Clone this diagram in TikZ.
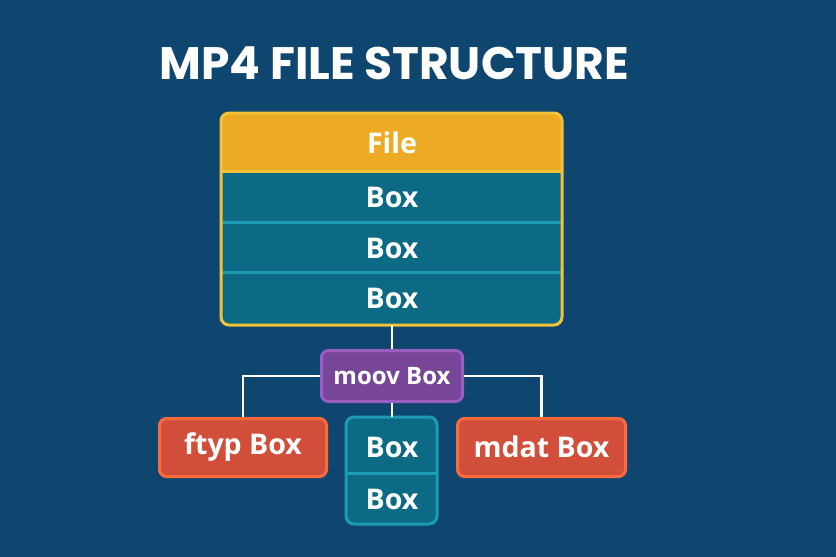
\documentclass[tikz,border=0pt]{standalone}
\usepackage{fontspec}
\setmainfont{Open Sans}
\newfontfamily\titlefont{Poppins}
\definecolor{bgc}{HTML}{0F4670}
\definecolor{yel}{HTML}{F4C238}
\definecolor{filec}{HTML}{EDAA24}
\definecolor{tealc}{HTML}{0C6A85}
\definecolor{cyanc}{HTML}{1D9BB2}
\definecolor{purf}{HTML}{774696}
\definecolor{purb}{HTML}{9C5EC2}
\definecolor{redf}{HTML}{D14F3A}
\definecolor{redb}{HTML}{FF6A3C}
\tikzset{
  lbl/.style={text=white, font=\bfseries\fontsize{28.5}{31}\selectfont},
  conn/.style={draw=white, line width=2.5pt},
  redbox/.style={fill=redf, draw=redb, line width=3pt, rounded corners=7pt},
}
\begin{document}
\begin{tikzpicture}[x=1pt,y=-1pt]
\fill[bgc] (0,0) rectangle (836,557);
\useasboundingbox (0,0) rectangle (836,557);
\node[text=white, font=\titlefont\bfseries\fontsize{45.5}{50}\selectfont, anchor=base west] (title) at (156,79) {MP4 FILE STRUCTURE};
% big box
\begin{scope}
\clip[rounded corners=8pt] (221,113) rectangle (562,325);
\fill[filec] (221,113) rectangle (562,171);
\fill[tealc] (221,171) rectangle (562,325);
\draw[yel, line width=3pt] (221,171.5) -- (562,171.5);
\draw[cyanc, line width=3pt] (221,222) -- (562,222);
\draw[cyanc, line width=3pt] (221,272) -- (562,272);
\end{scope}
\draw[yel, line width=3pt, rounded corners=8pt] (221,113) rectangle (562,325);
\coordinate (bigbot) at (392,325);
\node[lbl] (file) at (392,143) {File};
\node[lbl] (b1) at (392,197) {Box};
\node[lbl] (b2) at (392,248) {Box};
\node[lbl] (b3) at (392,298) {Box};
% moov
\node[fill=purf, draw=purb, line width=3pt, rounded corners=7pt, minimum width=141pt, minimum height=51pt, inner sep=0pt, text=white, font=\bfseries\fontsize{24}{27}\selectfont] (moov) at (392,376) {moov Box};
% ftyp, mdat
\node[redbox, minimum width=167pt, minimum height=58pt, inner sep=0pt] (ftyp) at (243,447.5) {};
\node[lbl] at (243,447) {ftyp Box};
\node[redbox, minimum width=168pt, minimum height=58pt, inner sep=0pt] (mdat) at (541.5,447.5) {};
\node[lbl] at (541.5,447) {mdat Box};
% center
\begin{scope}
\clip[rounded corners=8pt] (346,417) rectangle (437,524);
\fill[tealc] (346,417) rectangle (437,524);
\draw[cyanc, line width=3pt] (346,473.5) -- (437,473.5);
\end{scope}
\draw[cyanc, line width=3pt, rounded corners=8pt] (346,417) rectangle (437,524);
\coordinate (ctop) at (392,417);
\node[lbl] (c1) at (392,447) {Box};
\node[lbl] (c2) at (392,499) {Box};
% connectors
\draw[conn] (bigbot) -- (moov.north);
\draw[conn] (moov.south) -- (ctop);
\draw[conn] (moov.west) -| (ftyp.north);
\draw[conn] (moov.east) -| (mdat.north);
\end{tikzpicture}
\end{document}
